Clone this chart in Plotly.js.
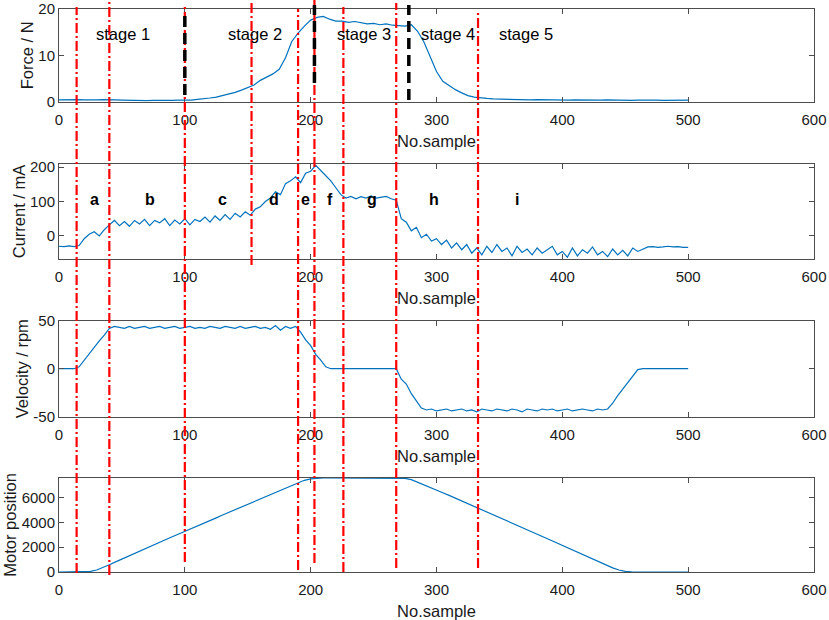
<!DOCTYPE html>
<html>
<head>
<meta charset="utf-8">
<script src="https://cdn.plot.ly/plotly-3.0.1.min.js"></script>
<style>html,body{margin:0;padding:0;background:#fff;}#chart{width:829px;height:620px;}</style>
</head>
<body>
<div id="chart"></div>
<script>
// ---------------- DATA ----------------
// Force / N, sampled every 5 samples, 0..500
const forceStep = 5;
const forceVals = [
  0.40,0.45,0.40,0.45,0.40,0.35,0.40,0.45,0.50,0.40,
  0.35,0.30,0.30,0.25,0.25,0.30,0.25,0.30,0.30,0.35,
  0.30,0.35,0.50,0.60,0.80,1.00,1.30,1.60,2.00,2.50,
  3.00,3.60,4.60,5.30,6.00,7.00,9.50,13.0,14.8,16.3,
  17.6,18.2,18.4,17.8,17.4,17.4,17.1,17.3,17.0,16.8,
  16.9,16.6,16.8,16.5,16.4,16.3,16.6,15.2,12.9,9.50,
  6.50,4.40,3.40,2.60,1.90,1.30,1.00,0.80,0.70,0.60,
  0.55,0.50,0.45,0.50,0.45,0.40,0.45,0.40,0.40,0.35,
  0.40,0.35,0.40,0.35,0.40,0.35,0.35,0.40,0.35,0.30,
  0.35,0.30,0.35,0.40,0.30,0.35,0.30,0.35,0.40,0.35,
  0.35
];
// Current / mA, sampled every 4 samples, 0..500
const currentStep = 4;
const currentVals = [
  -30,-31,-29,-31,-28,-8,5,12,0,18,
  32,45,30,42,28,45,35,48,30,45,
  38,50,30,46,35,50,32,48,42,55,
  40,58,45,62,48,66,55,70,60,78,
  85,100,110,128,120,152,160,172,155,182,
  188,205,190,175,160,140,120,110,115,108,
  114,110,116,110,113,115,108,104,50,40,
  15,25,-5,5,-15,-8,-25,-12,-35,-20,
  -40,-25,-50,-35,-55,-30,-48,-25,-45,-35,
  -58,-30,-48,-38,-55,-35,-50,-40,-30,-55,
  -45,-62,-35,-58,-40,-50,-32,-55,-45,-60,
  -38,-55,-42,-58,-35,-45,-38,-32,-31,-33,
  -32,-30,-32,-31,-33,-33
];
// Velocity / rpm, sampled every 4 samples, 0..500
const velocityStep = 4;
const velocityVals = [
  0,0,0,0,2,9,16,22,29,35,
  42,44,43,42,44,42,43,44,42,43,
  44,42,43,44,42,43,44,42,43,42,
  44,43,42,44,43,42,44,42,43,44,
  42,43,41,45,40,44,42,44,38,30,
  24,15,9,2,0,0,0,0,0,0,
  0,0,0,0,0,0,0,0,-11,-16,
  -26,-34,-41,-43,-42,-44,-43,-42,-44,-43,
  -42,-44,-43,-45,-42,-43,-44,-42,-43,-44,
  -42,-43,-45,-42,-43,-44,-42,-43,-42,-44,
  -43,-42,-44,-43,-42,-43,-44,-42,-43,-42,
  -36,-28,-21,-14,-7,-1,0,0,0,0,
  0,0,0,0,0,0
];
// Motor position, sampled every 5 samples, 0..500
const positionStep = 5;
const positionVals = [
  0,0,0,0,5,50,160,340,580,820,
  1050,1300,1510,1740,1960,2180,2400,2620,2840,3050,
  3270,3490,3710,3930,4150,4370,4600,4820,5040,5260,
  5480,5700,5920,6140,6360,6580,6800,7020,7230,7400,
  7520,7580,7600,7600,7600,7600,7600,7600,7600,7600,
  7600,7600,7600,7600,7600,7560,7450,7250,7030,6820,
  6620,6400,6180,5960,5750,5530,5310,5090,4860,4640,
  4420,4200,3980,3760,3520,3300,3060,2830,2600,2370,
  2140,1910,1680,1450,1220,990,770,540,330,160,
  50,5,0,0,0,0,0,0,0,0,
  0
];
// Phase boundary samples
const redLines   = [14, 40, 100, 153, 190, 203, 226, 268, 333];
const blackLines = [100, 203, 278];
// Labels
const stageLabels = ["stage 1","stage 2","stage 3","stage 4","stage 5"];
const stageX      = [51, 156, 242, 309, 371];
const phaseLabels = ["a","b","c","d","e","f","g","h","i"];
const phaseX      = [28, 72, 130, 171, 196, 215, 249, 298, 364];
const xTicks = [0,100,200,300,400,500,600];

// ---------------- LAYOUT HELPERS ----------------
const idx = (vals, step) => vals.map((_, i) => i * step);
const plotTop = 9, plotBottom = 572, plotH = plotBottom - plotTop;
const pf = px => (plotBottom - px) / plotH; // pixel y -> paper fraction
// extents (pixel y) of the boundary lines, per line
const redTop    = [7, 0, 5, 0, 9, 0, 7, 3, 10];
const redBottom = [573, 575, 562, 265, 570, 563, 572, 568, 568];
const blackTop    = [12, 5, 5];
const blackBottom = [95, 83, 100];

const FONT = "Liberation Sans, Arial, sans-serif";
const blue = "#0072BD";
const axisCol = "#4d4d4d";

function xax(anchor) {
  return {
    anchor: anchor, range: [0, 600], tickvals: xTicks, ticktext: xTicks.map(String),
    ticks: "inside", ticklen: 5, tickcolor: axisCol, showline: true, linecolor: axisCol,
    linewidth: 1, mirror: "ticks", showgrid: false, zeroline: false,
    tickfont: {family: FONT, size: 15, color: "#1a1a1a"}, ticklabelstandoff: 4,
    ticklabeloverflow: "allow",
    title: {text: "No.sample", font: {family: FONT, size: 16.5, color: "#1a1a1a"}, standoff: 8},
    automargin: false
  };
}
function yax(anchor, domain, range, tv, tt, title) {
  return {
    anchor: anchor, domain: domain, range: range, tickvals: tv, ticktext: tt,
    ticks: "inside", ticklen: 5, tickcolor: axisCol, showline: true, linecolor: axisCol,
    linewidth: 1, mirror: "ticks", showgrid: false, zeroline: false,
    tickfont: {family: FONT, size: 15, color: "#1a1a1a"}, ticklabeloverflow: "allow",
    title: {text: title, font: {family: FONT, size: 16.5, color: "#1a1a1a"}, standoff: 0},
    automargin: false
  };
}

const lineStyle = {color: blue, width: 1.2};
const traces = [
  {x: idx(forceVals, forceStep), y: forceVals, xaxis: "x", yaxis: "y", type: "scatter", mode: "lines", line: lineStyle},
  {x: idx(currentVals, currentStep), y: currentVals, xaxis: "x2", yaxis: "y2", type: "scatter", mode: "lines", line: lineStyle},
  {x: idx(velocityVals, velocityStep), y: velocityVals, xaxis: "x3", yaxis: "y3", type: "scatter", mode: "lines", line: lineStyle},
  {x: idx(positionVals, positionStep), y: positionVals, xaxis: "x4", yaxis: "y4", type: "scatter", mode: "lines", line: lineStyle}
];

const shapes = [];
redLines.forEach((v, i) => shapes.push({
  type: "line", xref: "x", yref: "paper", x0: v, x1: v, y0: pf(redBottom[i]), y1: pf(redTop[i]),
  line: {color: "#ff0000", width: 2.2, dash: "10px,3px,2px,3px"}, layer: "above"
}));
blackLines.forEach((v, i) => shapes.push({
  type: "line", xref: "x", yref: "paper", x0: v, x1: v, y0: pf(blackBottom[i]), y1: pf(blackTop[i]),
  line: {color: "#000000", width: 3.5, dash: "11px,6px"}, layer: "above"
}));

const annotations = [];
stageLabels.forEach((t, i) => annotations.push({
  text: t, x: stageX[i], y: 14.6, xref: "x", yref: "y", showarrow: false,
  font: {family: FONT, size: 16.5, color: "#000"}
}));
phaseLabels.forEach((t, i) => annotations.push({
  text: "<b>" + t + "</b>", x: phaseX[i], y: 105, xref: "x2", yref: "y2", showarrow: false,
  font: {family: FONT, size: 16, color: "#000"}
}));

const layout = {
  width: 829, height: 620, margin: {l: 59, r: 15, t: plotTop, b: 620 - plotBottom},
  paper_bgcolor: "#fff", plot_bgcolor: "#fff", showlegend: false,
  xaxis: xax("y"), xaxis2: xax("y2"), xaxis3: xax("y3"), xaxis4: xax("y4"),
  yaxis:  yax("x",  [pf(101.7), 1],       [0, 20],     [0,10,20], ["0","10","20"], "Force / N"),
  yaxis2: yax("x2", [pf(259), pf(164)],   [-67, 209],  [0,100,200], ["0","100","200"], "Current / mA"),
  yaxis3: yax("x3", [pf(416.7), pf(320.7)], [-50, 50], [-50,0,50], ["-50","0","50"], "Velocity / rpm"),
  yaxis4: yax("x4", [0, pf(477.7)],       [0, 7610],   [0,2000,4000,6000], ["0","2000","4000","6000"], "Motor position"),
  shapes: shapes, annotations: annotations
};

Plotly.newPlot("chart", traces, layout, {displayModeBar: false, staticPlot: true});
</script>
</body>
</html>
